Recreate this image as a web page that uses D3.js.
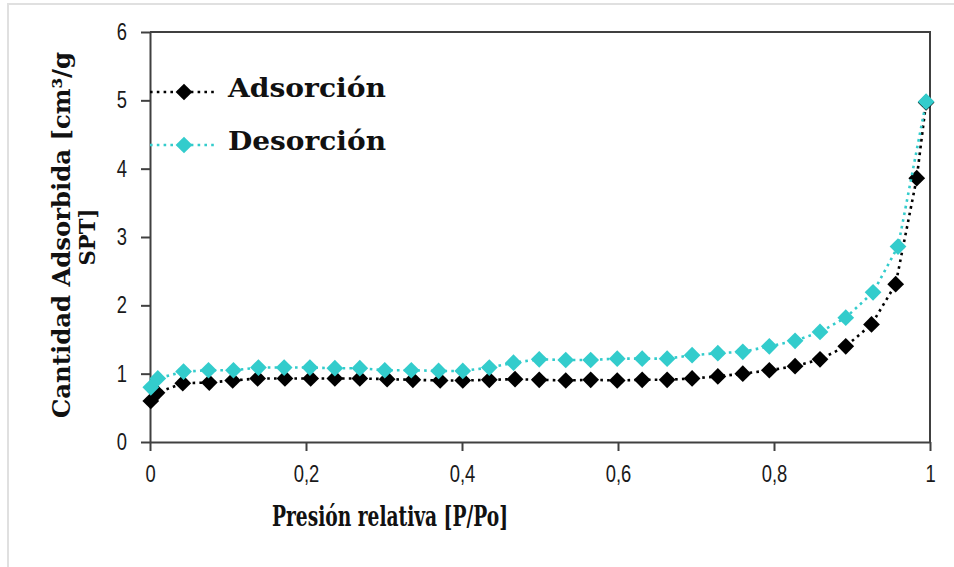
<!DOCTYPE html>
<html>
<head>
<meta charset="utf-8">
<script src="https://cdn.jsdelivr.net/npm/d3@7"></script>
<style>
  body { margin: 0; background: #fff; }
  svg { display: block; }
</style>
</head>
<body>
<div id="chart"></div>
<script>
// isotherm data
var seriesNames = ['Adsorción', 'Desorción'];
var seriesColors = ['#000000', '#33cccc'];
var xTicks = [0, 0.2, 0.4, 0.6, 0.8, 1];
var yTicks = [0, 1, 2, 3, 4, 5, 6];

var pAds = [0.001, 0.009, 0.042, 0.076, 0.106, 0.138, 0.173, 0.206, 0.237, 0.269, 0.304, 0.337, 0.372, 0.401, 0.435, 0.468, 0.499, 0.533, 0.565, 0.599, 0.631, 0.663, 0.695, 0.728, 0.760, 0.794, 0.827, 0.859, 0.892, 0.925, 0.956, 0.983, 0.995];
var vAds = [0.60, 0.72, 0.86, 0.87, 0.90, 0.93, 0.93, 0.93, 0.93, 0.93, 0.92, 0.91, 0.90, 0.90, 0.91, 0.92, 0.91, 0.90, 0.91, 0.90, 0.91, 0.91, 0.93, 0.96, 1.00, 1.05, 1.11, 1.21, 1.40, 1.72, 2.31, 3.86, 4.97];

var pDes = [0.001, 0.010, 0.043, 0.075, 0.107, 0.139, 0.172, 0.205, 0.237, 0.269, 0.301, 0.335, 0.370, 0.401, 0.435, 0.466, 0.499, 0.533, 0.565, 0.599, 0.631, 0.663, 0.695, 0.728, 0.760, 0.794, 0.827, 0.859, 0.892, 0.927, 0.959, 0.995];
var vDes = [0.80, 0.93, 1.03, 1.05, 1.05, 1.09, 1.09, 1.09, 1.08, 1.08, 1.05, 1.05, 1.04, 1.04, 1.09, 1.16, 1.21, 1.20, 1.20, 1.22, 1.22, 1.22, 1.27, 1.30, 1.32, 1.40, 1.48, 1.61, 1.82, 2.19, 2.86, 4.98];

(function(d3) {
  'use strict';
  var width = 954;
  var height = 567;
  var left = 150, right = 930, top = 32, bottom = 442;
  var axisColor = '#404040';
  var tickFont = '"Liberation Sans", Arial, sans-serif';
  var titleFont = '"DejaVu Serif", serif';
  var narrow = 0.8; // tick labels are a condensed face

  var svg = d3.select('#chart')
    .append('svg')
    .attr('width', width)
    .attr('height', height);

  // light outer frame of the picture
  svg.append('line')
    .attr('x1', 7).attr('x2', width).attr('y1', 4).attr('y2', 4)
    .attr('stroke', '#e0e0e0').attr('stroke-width', 2);
  svg.append('line')
    .attr('x1', 8).attr('x2', 8).attr('y1', 3).attr('y2', height)
    .attr('stroke', '#e0e0e0').attr('stroke-width', 2);

  var x = d3.scaleLinear().domain([0, 1]).range([left, right]);
  var y = d3.scaleLinear().domain([0, 6]).range([bottom, top]);

  // plot frame (top and right)
  svg.append('path')
    .attr('d', 'M' + left + ',' + top + 'H' + right + 'V' + bottom)
    .attr('fill', 'none')
    .attr('stroke', axisColor)
    .attr('stroke-width', 2);

  var xAxis = svg.append('g')
    .attr('transform', 'translate(0,' + bottom + ')')
    .call(d3.axisBottom(x)
      .tickValues(xTicks)
      .tickSize(9)
      .tickSizeOuter(0)
      .tickPadding(15)
      .tickFormat(function(d) { return String(d).replace('.', ','); }));

  var yAxis = svg.append('g')
    .attr('transform', 'translate(' + left + ',0)')
    .call(d3.axisLeft(y)
      .tickValues(yTicks)
      .tickSize(9)
      .tickSizeOuter(0)
      .tickPadding(14)
      .tickFormat(function(d) { return String(d); }));

  [xAxis, yAxis].forEach(function(g) {
    g.select('.domain').attr('stroke', axisColor).attr('stroke-width', 2);
    g.selectAll('.tick line').attr('stroke', axisColor).attr('stroke-width', 2);
    g.selectAll('.tick text')
      .attr('fill', '#1a1a1a')
      .style('font-family', tickFont)
      .style('font-size', '23px')
      .attr('transform', 'scale(' + narrow + ',1)');
  });
  // keep the right edge of y labels where the axis put it
  yAxis.selectAll('.tick text').attr('x', -23 / narrow);

  // series
  var series = [
    { name: seriesNames[0], color: seriesColors[0], pts: d3.zip(pAds, vAds) },
    { name: seriesNames[1], color: seriesColors[1], pts: d3.zip(pDes, vDes) }
  ];

  var line = d3.line()
    .x(function(d) { return x(d[0]); })
    .y(function(d) { return y(d[1]); });

  var diamond = d3.symbol().type(d3.symbolSquare).size(140);

  series.forEach(function(s) {
    svg.append('path')
      .attr('d', line(s.pts))
      .attr('fill', 'none')
      .attr('stroke', s.color)
      .attr('stroke-width', 2.6)
      .attr('stroke-dasharray', '2.6,4.2');
    svg.selectAll(null)
      .data(s.pts)
      .enter()
      .append('path')
      .attr('d', diamond)
      .attr('fill', s.color)
      .attr('transform', function(d) {
        return 'translate(' + x(d[0]) + ',' + y(d[1]) + ') rotate(45)';
      });
  });

  // legend
  var legend = svg.selectAll('.legend')
    .data(series)
    .enter()
    .append('g')
    .attr('class', 'legend')
    .attr('transform', function(d, i) { return 'translate(150,' + (92 + i * 53) + ')'; });
  legend.append('line')
    .attr('x1', 0).attr('x2', 68)
    .attr('stroke', function(d) { return d.color; })
    .attr('stroke-width', 2.6)
    .attr('stroke-dasharray', '2.6,4.2');
  legend.append('path')
    .attr('d', diamond)
    .attr('fill', function(d) { return d.color; })
    .attr('transform', 'translate(34,0) rotate(45)');
  legend.append('text')
    .attr('x', 78)
    .attr('y', 5)
    .attr('textLength', 158)
    .attr('lengthAdjust', 'spacingAndGlyphs')
    .style('font-family', titleFont)
    .style('font-weight', 'bold')
    .style('font-size', '26px')
    .attr('fill', '#111')
    .text(function(d) { return d.name; });

  // axis titles
  svg.append('text')
    .attr('x', 390)
    .attr('y', 526)
    .attr('text-anchor', 'middle')
    .attr('textLength', 236)
    .attr('lengthAdjust', 'spacingAndGlyphs')
    .style('font-family', titleFont)
    .style('font-weight', 'bold')
    .style('font-size', '27px')
    .attr('fill', '#111')
    .text('Presión relativa [P/Po]');

  svg.append('text')
    .attr('transform', 'translate(70,235) rotate(-90)')
    .attr('text-anchor', 'middle')
    .attr('textLength', 366)
    .attr('lengthAdjust', 'spacingAndGlyphs')
    .style('font-family', titleFont)
    .style('font-weight', 'bold')
    .style('font-size', '24px')
    .attr('fill', '#111')
    .text('Cantidad  Adsorbida  [cm³/g');

  svg.append('text')
    .attr('transform', 'translate(95,237) rotate(-90)')
    .attr('text-anchor', 'middle')
    .attr('textLength', 57)
    .attr('lengthAdjust', 'spacingAndGlyphs')
    .style('font-family', titleFont)
    .style('font-weight', 'bold')
    .style('font-size', '22px')
    .attr('fill', '#111')
    .text('SPT]');
})(window.d3);
</script>
</body>
</html>
